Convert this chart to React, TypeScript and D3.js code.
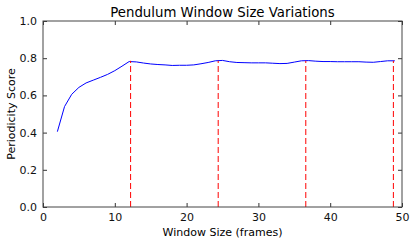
import React, { useEffect, useRef } from 'react';
import * as d3 from 'd3';

// window sizes (frames) and periodicity score
const windowSizes = [
  2, 3, 4, 5, 6, 7, 8, 9, 10, 11, 12, 13, 14, 15, 16, 17, 18, 19, 20, 21, 22, 23, 24, 25,
  26, 27, 28, 29, 30, 31, 32, 33, 34, 35, 36, 37, 38, 39, 40, 41, 42, 43, 44, 45, 46, 47, 48, 49,
];
const scores = [
  0.405, 0.54, 0.606, 0.643, 0.667, 0.682, 0.697, 0.713, 0.733, 0.757, 0.782, 0.78, 0.774, 0.769,
  0.766, 0.764, 0.761, 0.762, 0.762, 0.764, 0.77, 0.777, 0.786, 0.788, 0.781, 0.777, 0.776, 0.775,
  0.775, 0.775, 0.773, 0.771, 0.772, 0.779, 0.786, 0.787, 0.784, 0.782, 0.782, 0.781, 0.781, 0.781,
  0.781, 0.779, 0.778, 0.782, 0.786, 0.786,
];
// red dashed markers (multiples of the period)
const periodMarks = [12.2, 24.4, 36.6, 48.8];
const xTicks = [0, 10, 20, 30, 40, 50];
const yTicks = [0, 0.2, 0.4, 0.6, 0.8, 1.0];

const width = 415;
const height = 243;
const margin = { top: 21, right: 13, bottom: 36, left: 43 };

export default function App() {
  const ref = useRef<SVGSVGElement>(null);

  useEffect(() => {
    const svg = d3.select(ref.current);
    svg.selectAll('*').remove();
    const font = 'DejaVu Sans, sans-serif';

    const x = d3.scaleLinear().domain([0, 50]).range([margin.left, width - margin.right]);
    const y = d3.scaleLinear().domain([0, 1]).range([height - margin.bottom, margin.top]);
    const x0 = x.range()[0];
    const x1 = x.range()[1];
    const y0 = y.range()[0];
    const y1 = y.range()[1];

    // data line
    const line = d3
      .line<number>()
      .x((_, i) => x(windowSizes[i]))
      .y((d) => y(d));
    svg
      .append('path')
      .datum(scores)
      .attr('d', line)
      .attr('fill', 'none')
      .attr('stroke', '#0000ff')
      .attr('stroke-width', 1);

    // dashed period markers
    svg
      .selectAll('.mark')
      .data(periodMarks)
      .enter()
      .append('line')
      .attr('x1', (d) => x(d))
      .attr('x2', (d) => x(d))
      .attr('y1', y0)
      .attr('y2', y(0.786))
      .attr('stroke', '#ff0000')
      .attr('stroke-width', 1)
      .attr('stroke-dasharray', '6,3');

    // inward ticks, all four sides
    const xAxisB = d3.axisBottom(x).tickValues(xTicks).tickSizeInner(-4).tickSizeOuter(0).tickPadding(6).tickFormat(d3.format('d'));
    const xAxisT = d3.axisTop(x).tickValues(xTicks).tickSizeInner(-4).tickSizeOuter(0).tickFormat(() => '');
    const yAxisL = d3.axisLeft(y).tickValues(yTicks).tickSizeInner(-4).tickSizeOuter(0).tickPadding(6).tickFormat(d3.format('.1f'));
    const yAxisR = d3.axisRight(y).tickValues(yTicks).tickSizeInner(-4).tickSizeOuter(0).tickFormat(() => '');

    const axes = [
      svg.append('g').attr('transform', `translate(0,${y0})`).call(xAxisB),
      svg.append('g').attr('transform', `translate(0,${y1})`).call(xAxisT),
      svg.append('g').attr('transform', `translate(${x0},0)`).call(yAxisL),
      svg.append('g').attr('transform', `translate(${x1},0)`).call(yAxisR),
    ];
    axes.forEach((g) => {
      g.select('.domain').remove();
      g.selectAll('line').attr('stroke', '#333');
      g.selectAll('text').attr('fill', '#111').style('font-family', font).style('font-size', '11px');
    });

    // frame
    svg
      .append('rect')
      .attr('x', x0)
      .attr('y', y1)
      .attr('width', x1 - x0)
      .attr('height', y0 - y1)
      .attr('fill', 'none')
      .attr('stroke', '#444')
      .attr('stroke-width', 1);

    svg
      .append('text')
      .attr('x', (x0 + x1) / 2)
      .attr('y', 17)
      .attr('text-anchor', 'middle')
      .style('font-family', font)
      .style('font-size', '13.3px')
      .text('Pendulum Window Size Variations');

    svg
      .append('text')
      .attr('x', (x0 + x1) / 2)
      .attr('y', 236)
      .attr('text-anchor', 'middle')
      .style('font-family', font)
      .style('font-size', '11px')
      .text('Window Size (frames)');

    svg
      .append('text')
      .attr('transform', `translate(15,${(y0 + y1) / 2}) rotate(-90)`)
      .attr('text-anchor', 'middle')
      .style('font-family', font)
      .style('font-size', '11px')
      .text('Periodicity Score');
  }, []);

  return (
    <svg
      ref={ref}
      width={width}
      height={height}
      style={{ position: 'absolute', left: 0, top: 0, background: '#fff' }}
    />
  );
}
